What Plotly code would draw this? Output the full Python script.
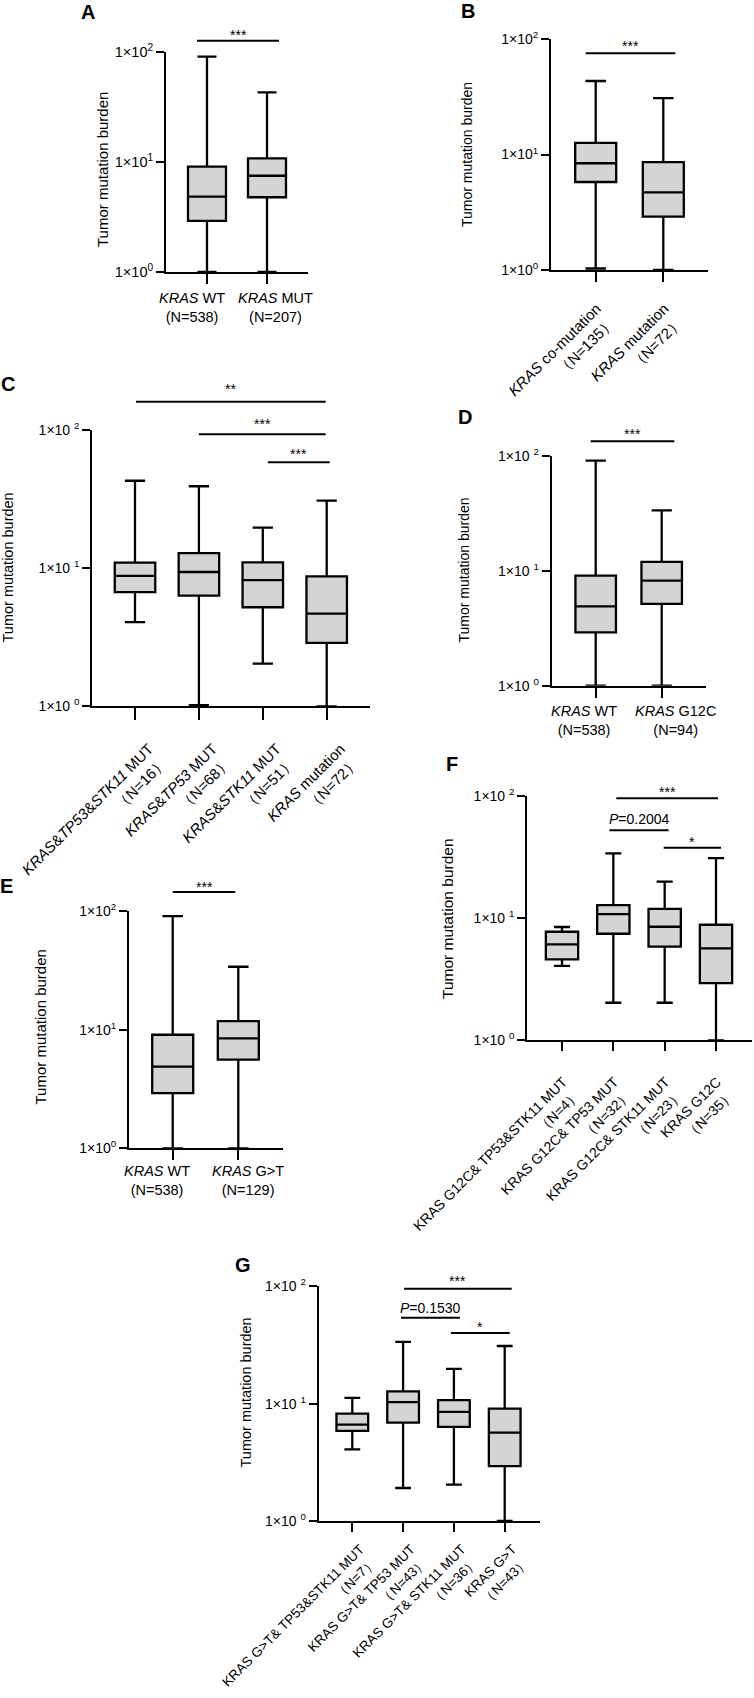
import plotly.graph_objects as go

W, H = 754, 1698
FONT = "Arial, 'Liberation Sans', sans-serif"
FILL = "#d4d4d4"

# ---------------- data ----------------
A_labels = ["<i>KRAS</i> WT<br>(N=538)", "<i>KRAS</i> MUT<br>(N=207)"]
A_lower = [1.0, 1.0]
A_q1 = [2.91, 4.78]
A_median = [4.84, 7.5]
A_q3 = [9.06, 10.8]
A_upper = [90.6, 43.0]
A_tests = [(0, 1, "***")]

B_labels = ["<i>KRAS</i> co-mutation<br>（N=135）", "<i>KRAS</i> mutation<br>（N=72）"]
B_lower = [1.03, 1.0]
B_q1 = [5.78, 2.9]
B_median = [8.4, 4.7]
B_q3 = [12.6, 8.6]
B_upper = [43.3, 30.8]
B_tests = [(0, 1, "***")]

C_labels = ["<i>KRAS</i>&amp;<i>TP53</i>&amp;<i>STK11</i> MUT<br>（N=16）",
            "<i>KRAS</i>&amp;<i>TP53</i> MUT<br>（N=68）",
            "<i>KRAS</i>&amp;<i>STK11</i> MUT<br>（N=51）",
            "<i>KRAS</i> mutation<br>（N=72）"]
C_lower = [4.08, 1.02, 2.04, 1.0]
C_q1 = [6.73, 6.33, 5.22, 2.88]
C_median = [8.8, 9.4, 8.2, 4.69]
C_q3 = [11.0, 12.9, 11.05, 8.75]
C_upper = [43.1, 39.3, 19.7, 30.9]
C_tests = [(0, 3, "**"), (1, 3, "***"), (2, 3, "***")]

D_labels = ["<i>KRAS</i> WT<br>(N=538)", "<i>KRAS</i> G12C<br>(N=94)"]
D_lower = [1.0, 1.0]
D_q1 = [2.92, 5.16]
D_median = [4.92, 8.23]
D_q3 = [9.1, 12.0]
D_upper = [91.6, 33.8]
D_tests = [(0, 1, "***")]

E_labels = ["<i>KRAS</i> WT<br>(N=538)", "<i>KRAS</i> G&gt;T<br>(N=129)"]
E_lower = [1.0, 1.0]
E_q1 = [2.92, 5.58]
E_median = [4.87, 8.45]
E_q3 = [9.06, 11.8]
E_upper = [90.6, 33.9]
E_tests = [(0, 1, "***")]

F_labels = ["KRAS G12C&amp; TP53&amp;STK11 MUT<br>（N=4）",
            "KRAS G12C&amp; TP53 MUT<br>（N=32）",
            "KRAS G12C&amp; STK11 MUT<br>（N=23）",
            "KRAS G12C<br>（N=35）"]
F_lower = [4.06, 2.03, 2.03, 1.0]
F_q1 = [4.6, 7.45, 5.84, 2.94]
F_median = [6.11, 10.8, 8.5, 5.66]
F_q3 = [7.74, 12.8, 11.9, 8.83]
F_upper = [8.46, 33.9, 19.9, 31.0]
F_tests = [(1, 3, "***"), (1, 2, "<i>P</i>=0.2004"), (2, 3, "*")]

G_labels = ["KRAS G&gt;T&amp; TP53&amp;STK11 MUT<br>（N=7）",
            "KRAS G&gt;T&amp; TP53 MUT<br>（N=43）",
            "KRAS G&gt;T&amp; STK11 MUT<br>（N=36）",
            "KRAS G&gt;T<br>（N=43）"]
G_lower = [4.08, 1.91, 2.04, 1.0]
G_q1 = [5.85, 6.89, 6.33, 2.93]
G_median = [6.62, 10.3, 8.5, 5.66]
G_q3 = [8.22, 12.7, 10.7, 9.06]
G_upper = [11.2, 33.6, 19.8, 31.0]
G_tests = [(1, 3, "***"), (1, 2, "<i>P</i>=0.1530"), (2, 3, "*")]

Y_TITLE = "Tumor mutation burden"

DATA = {
    "A": (A_labels, A_lower, A_q1, A_median, A_q3, A_upper, A_tests),
    "B": (B_labels, B_lower, B_q1, B_median, B_q3, B_upper, B_tests),
    "C": (C_labels, C_lower, C_q1, C_median, C_q3, C_upper, C_tests),
    "D": (D_labels, D_lower, D_q1, D_median, D_q3, D_upper, D_tests),
    "E": (E_labels, E_lower, E_q1, E_median, E_q3, E_upper, E_tests),
    "F": (F_labels, F_lower, F_q1, F_median, F_q3, F_upper, F_tests),
    "G": (G_labels, G_lower, G_q1, G_median, G_q3, G_upper, G_tests),
}

# ---------------- layout (pixel geometry of each panel) ----------------
LAYOUT = {
    "A": dict(left=166, right=308, top=52, bottom=272, ticks=(207, 267), ticklen=10, box_px=38,
              letter=(87.5, 12), ytitle=(102, 170), ytitle_size=15, tick_size=14.5, xlab_size=14.5,
              rotated=False, hlab=((-15, 8), 308), spaced=False, bars=[(40.7, 32, -10, 12)]),
    "B": dict(left=551, right=708, top=39, bottom=270, ticks=(595.7, 663.3), ticklen=10, box_px=41,
              letter=(467.5, 11), ytitle=(467, 155), ytitle_size=14, tick_size=14, xlab_size=15,
              rotated=True, rot=(12, 1), spaced=False, bars=[(53.3, 43, -10, 12)]),
    "C": dict(left=92.3, right=370, top=430.3, bottom=706.3, ticks=(135, 199, 262.7, 326.7), ticklen=12,
              box_px=40.5, letter=(7.5, 384), ytitle=(7.5, 568), ytitle_size=14.5, tick_size=14,
              xlab_size=15, rotated=True, rot=(14, 14), spaced=True,
              bars=[(401.7, 386, 1, -1), (434.3, 421, 0, -1), (462.3, 451, 5, 3)]),
    "D": dict(left=551.7, right=706, top=456.3, bottom=685.7, ticks=(595.7, 661.7), ticklen=10, box_px=40.5,
              letter=(465, 417), ytitle=(464, 570.5), ytitle_size=14, tick_size=14, xlab_size=14.5,
              rotated=False, hlab=((-11.7, 13.3), 720), spaced=True, bars=[(441.3, 431, -5, 12.6)]),
    "E": dict(left=129, right=283.3, top=911, bottom=1148.3, ticks=(172.7, 238.3), ticklen=10, box_px=41,
              letter=(6.5, 886), ytitle=(40, 1027.5), ytitle_size=15, tick_size=14, xlab_size=14.5,
              rotated=False, hlab=((-15.7, 9.7), 1180.5), spaced=False, bars=[(892, 883.7, 0, -3)]),
    "F": dict(left=527.3, right=752, top=796, bottom=1040.3, ticks=(562, 613.3, 664.7, 716), ticklen=9,
              box_px=32.3, letter=(451.5, 764), ytitle=(447.5, 918.5), ytitle_size=15.5, tick_size=14,
              xlab_size=14, rotated=True, rot=(17, 1), spaced=True,
              bars=[(798.3, 789.3, 3, 2), (830.3, 819.3, -4, 4), (847.7, 839.3, -1, 5)]),
    "G": dict(left=318.7, right=539.7, top=1286.3, bottom=1521, ticks=(352.3, 403, 454, 504.7), ticklen=9,
              box_px=31.7, letter=(243, 1265), ytitle=(245.5, 1392), ytitle_size=14.5, tick_size=14,
              xlab_size=13.5, rotated=True, rot=(4, 8), spaced=True,
              bars=[(1288.7, 1278, 1, 7), (1317.7, 1308, -2, 6), (1333, 1323.7, -3, 5)]),
}


def fx(px):
    return px / W


def fy(py):
    return 1 - py / H


fig = go.Figure()
annotations = []
shapes = []
layout_axes = {}

for k, key in enumerate(["A", "B", "C", "D", "E", "F", "G"], start=1):
    labels, lower, q1, med, q3, upper, tests = DATA[key]
    g = LAYOUT[key]
    n = len(labels)
    t0, t1 = g["ticks"][0], g["ticks"][-1]
    unit = (t1 - t0) / (n - 1)
    xmin = -(t0 - g["left"]) / unit
    xmax = (n - 1) + (g["right"] - t1) / unit
    xs = list(range(n))
    xa, ya = f"x{k}", f"y{k}"

    fig.add_trace(go.Box(
        x=xs, q1=q1, median=med, q3=q3, lowerfence=lower, upperfence=upper,
        orientation="v", width=g["box_px"] / unit, whiskerwidth=0.5,
        fillcolor=FILL, line=dict(color="black", width=2.3),
        boxpoints=False, showlegend=False, hoverinfo="skip",
        xaxis=xa, yaxis=ya))

    sp = " " if g["spaced"] else ""
    ytext = [f"1×10{sp}<sup>{e}</sup>" for e in (0, 1, 2)]

    xaxis = dict(
        domain=[fx(g["left"]), fx(g["right"])], range=[xmin, xmax], anchor=ya, automargin=False,
        showline=True, linecolor="black", linewidth=2, showgrid=False, zeroline=False,
        ticks="outside", ticklen=g["ticklen"], tickwidth=2, tickcolor="black",
        tickmode="array", tickvals=xs)
    if g["rotated"]:
        standoff, shift = g["rot"]
        xaxis.update(ticktext=labels, tickangle=-45, showticklabels=True,
                     ticklabelstandoff=standoff, ticklabelshift=shift,
                     tickfont=dict(size=g["xlab_size"], color="black", family=FONT))
    else:
        xaxis.update(showticklabels=False)
    layout_axes[f"xaxis{k}"] = xaxis
    layout_axes[f"yaxis{k}"] = dict(
        domain=[fy(g["bottom"]), fy(g["top"])], type="log", range=[0, 2], anchor=xa, automargin=False,
        showline=True, linecolor="black", linewidth=2, showgrid=False, zeroline=False,
        ticks="outside", ticklen=8, tickwidth=2, tickcolor="black",
        tickmode="array", tickvals=[1, 10, 100], ticktext=ytext,
        tickfont=dict(size=g["tick_size"], color="black", family=FONT))

    # panel letter
    annotations.append(dict(text=f"<b>{key}</b>", x=fx(g["letter"][0]), y=fy(g["letter"][1]),
                            xref="paper", yref="paper", xanchor="center", yanchor="middle",
                            showarrow=False, font=dict(size=20, color="black", family=FONT)))
    # y title
    annotations.append(dict(text=Y_TITLE, x=fx(g["ytitle"][0]), y=fy(g["ytitle"][1]),
                            xref="paper", yref="paper", xanchor="center", yanchor="middle",
                            textangle=-90, showarrow=False,
                            font=dict(size=g["ytitle_size"], color="black", family=FONT)))
    # horizontal category labels
    if not g["rotated"]:
        offs, yc = g["hlab"]
        for i, lab in enumerate(labels):
            annotations.append(dict(text=lab, x=i, y=fy(yc), xref=xa, yref="paper",
                                    xanchor="center", yanchor="middle", align="center",
                                    xshift=offs[i], showarrow=False,
                                    font=dict(size=g["xlab_size"], color="black", family=FONT)))
    # significance bars
    for (i, j, txt), (bar_y, txt_y, d0, d1) in zip(tests, g["bars"]):
        x0 = i + d0 / unit
        x1 = j + d1 / unit
        shapes.append(dict(type="line", xref=xa, yref="paper", x0=x0, x1=x1,
                           y0=fy(bar_y), y1=fy(bar_y), line=dict(color="black", width=2)))
        corr = 3 if txt.strip("*") == "" else 0
        annotations.append(dict(text=txt, x=(x0 + x1) / 2, y=fy(txt_y + corr), xref=xa, yref="paper",
                                xanchor="center", yanchor="middle", showarrow=False,
                                font=dict(size=14, color="black", family=FONT)))

fig.update_layout(
    width=W, height=H, margin=dict(l=0, r=0, t=0, b=0, autoexpand=False),
    paper_bgcolor="white", plot_bgcolor="white", showlegend=False,
    font=dict(family=FONT, color="black"),
    annotations=annotations, shapes=shapes, **layout_axes)

fig.write_html("out.html", config={"displayModeBar": False},
               post_script="document.body.style.margin='0px';document.body.style.overflow='hidden';")
